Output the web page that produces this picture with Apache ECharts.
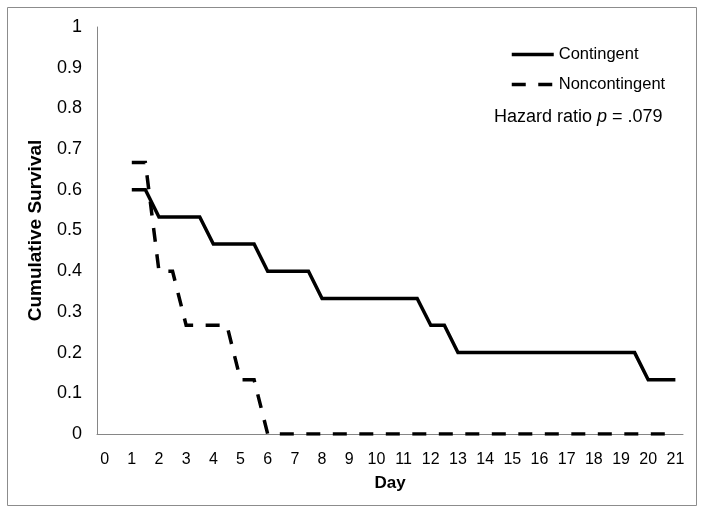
<!DOCTYPE html>
<html>
<head>
<meta charset="utf-8">
<script src="https://cdn.jsdelivr.net/npm/echarts@6/dist/echarts.min.js"></script>
<style>
html,body{margin:0;padding:0;background:#fff;}
#chart{width:704px;height:523px;}
</style>
</head>
<body>
<div id="chart"></div>
<script>
// Data
const contingentDays = [1, 1.5, 2, 3.5, 4, 5.5, 6, 7.5, 8, 11.5, 12, 12.5, 13, 19.5, 20, 21];
const contingentSurvival = [0.6, 0.6, 0.533, 0.533, 0.467, 0.467, 0.4, 0.4, 0.333, 0.333, 0.267, 0.267, 0.2, 0.2, 0.133, 0.133];
const noncontingentDays = [1, 1.5, 2, 2.5, 3, 4.5, 5, 5.5, 6, 21];
const noncontingentSurvival = [0.667, 0.667, 0.4, 0.4, 0.267, 0.267, 0.133, 0.133, 0, 0];
const xTickLabels = [0,1,2,3,4,5,6,7,8,9,10,11,12,13,14,15,16,17,18,19,20,21];
const yTickLabels = [0,0.1,0.2,0.3,0.4,0.5,0.6,0.7,0.8,0.9,1];
const seriesNames = ['Contingent', 'Noncontingent'];
const annotation = 'Hazard ratio';

const font = 'Liberation Sans, Arial, sans-serif';
const pair = (xs, ys) => xs.map((x, i) => [x, ys[i]]);
const dash = [14, 12.5];

const chart = echarts.init(document.getElementById('chart'));
chart.setOption({
  animation: false,
  backgroundColor: '#fff',
  grid: {left: 97, right: 21, top: 27, bottom: 89, containLabel: false},
  xAxis: {
    type: 'value',
    min: -0.28, max: 21.28,
    name: 'Day',
    nameLocation: 'middle',
    nameGap: 41,
    nameTextStyle: {fontFamily: font, fontSize: 17, fontWeight: 'bold', color: '#000'},
    axisLine: {show: true, onZero: false, lineStyle: {color: '#868686', width: 1}},
    axisTick: {show: false},
    splitLine: {show: false},
    axisLabel: {customValues: xTickLabels, fontFamily: font, fontSize: 16, color: '#000', margin: 18}
  },
  yAxis: {
    type: 'value',
    min: 0, max: 1, interval: 0.1,
    name: 'Cumulative Survival',
    nameLocation: 'middle',
    nameGap: 52,
    nameRotate: 90,
    nameTextStyle: {fontFamily: font, fontSize: 19, fontWeight: 'bold', color: '#000'},
    axisLine: {show: true, onZero: false, lineStyle: {color: '#868686', width: 1}},
    axisTick: {show: false},
    splitLine: {show: false},
    axisLabel: {customValues: yTickLabels, fontFamily: font, fontSize: 18, color: '#000', margin: 15}
  },
  legend: {
    orient: 'vertical',
    left: 510, top: 46, padding: 0,
    itemWidth: 42, itemHeight: 14, itemGap: 13,
    itemStyle: {opacity: 0},
    lineStyle: {width: 3.5},
    textStyle: {fontFamily: font, fontSize: 16.5, color: '#000'},
    data: [
      {name: seriesNames[0], lineStyle: {width: 3.5, type: 'solid'}},
      {name: seriesNames[1], lineStyle: {width: 3.5, type: dash}}
    ]
  },
  title: {
    left: 494, top: 108, padding: 0,
    text: '{a|' + annotation + ' }{b|p}{a| = .079}',
    textStyle: {
      fontWeight: 'normal',
      rich: {
        a: {fontFamily: font, fontSize: 18, color: '#000', fontWeight: 'normal'},
        b: {fontFamily: font, fontSize: 18, color: '#000', fontStyle: 'italic', fontWeight: 'normal'}
      }
    }
  },
  graphic: [{
    type: 'rect', silent: true, z: -1,
    shape: {x: 7.5, y: 7.5, width: 689, height: 498},
    style: {fill: 'none', stroke: '#8c8c8c', lineWidth: 1}
  }],
  series: [
    {
      name: seriesNames[0], type: 'line', symbol: 'none',
      data: pair(contingentDays, contingentSurvival),
      lineStyle: {color: '#000', width: 3.5, join: 'miter'},
      itemStyle: {color: '#000'}
    },
    {
      name: seriesNames[1], type: 'line', symbol: 'none',
      data: pair(noncontingentDays, noncontingentSurvival),
      lineStyle: {color: '#000', width: 3.5, type: dash, join: 'miter'},
      itemStyle: {color: '#000'}
    }
  ]
});
</script>
</body>
</html>
